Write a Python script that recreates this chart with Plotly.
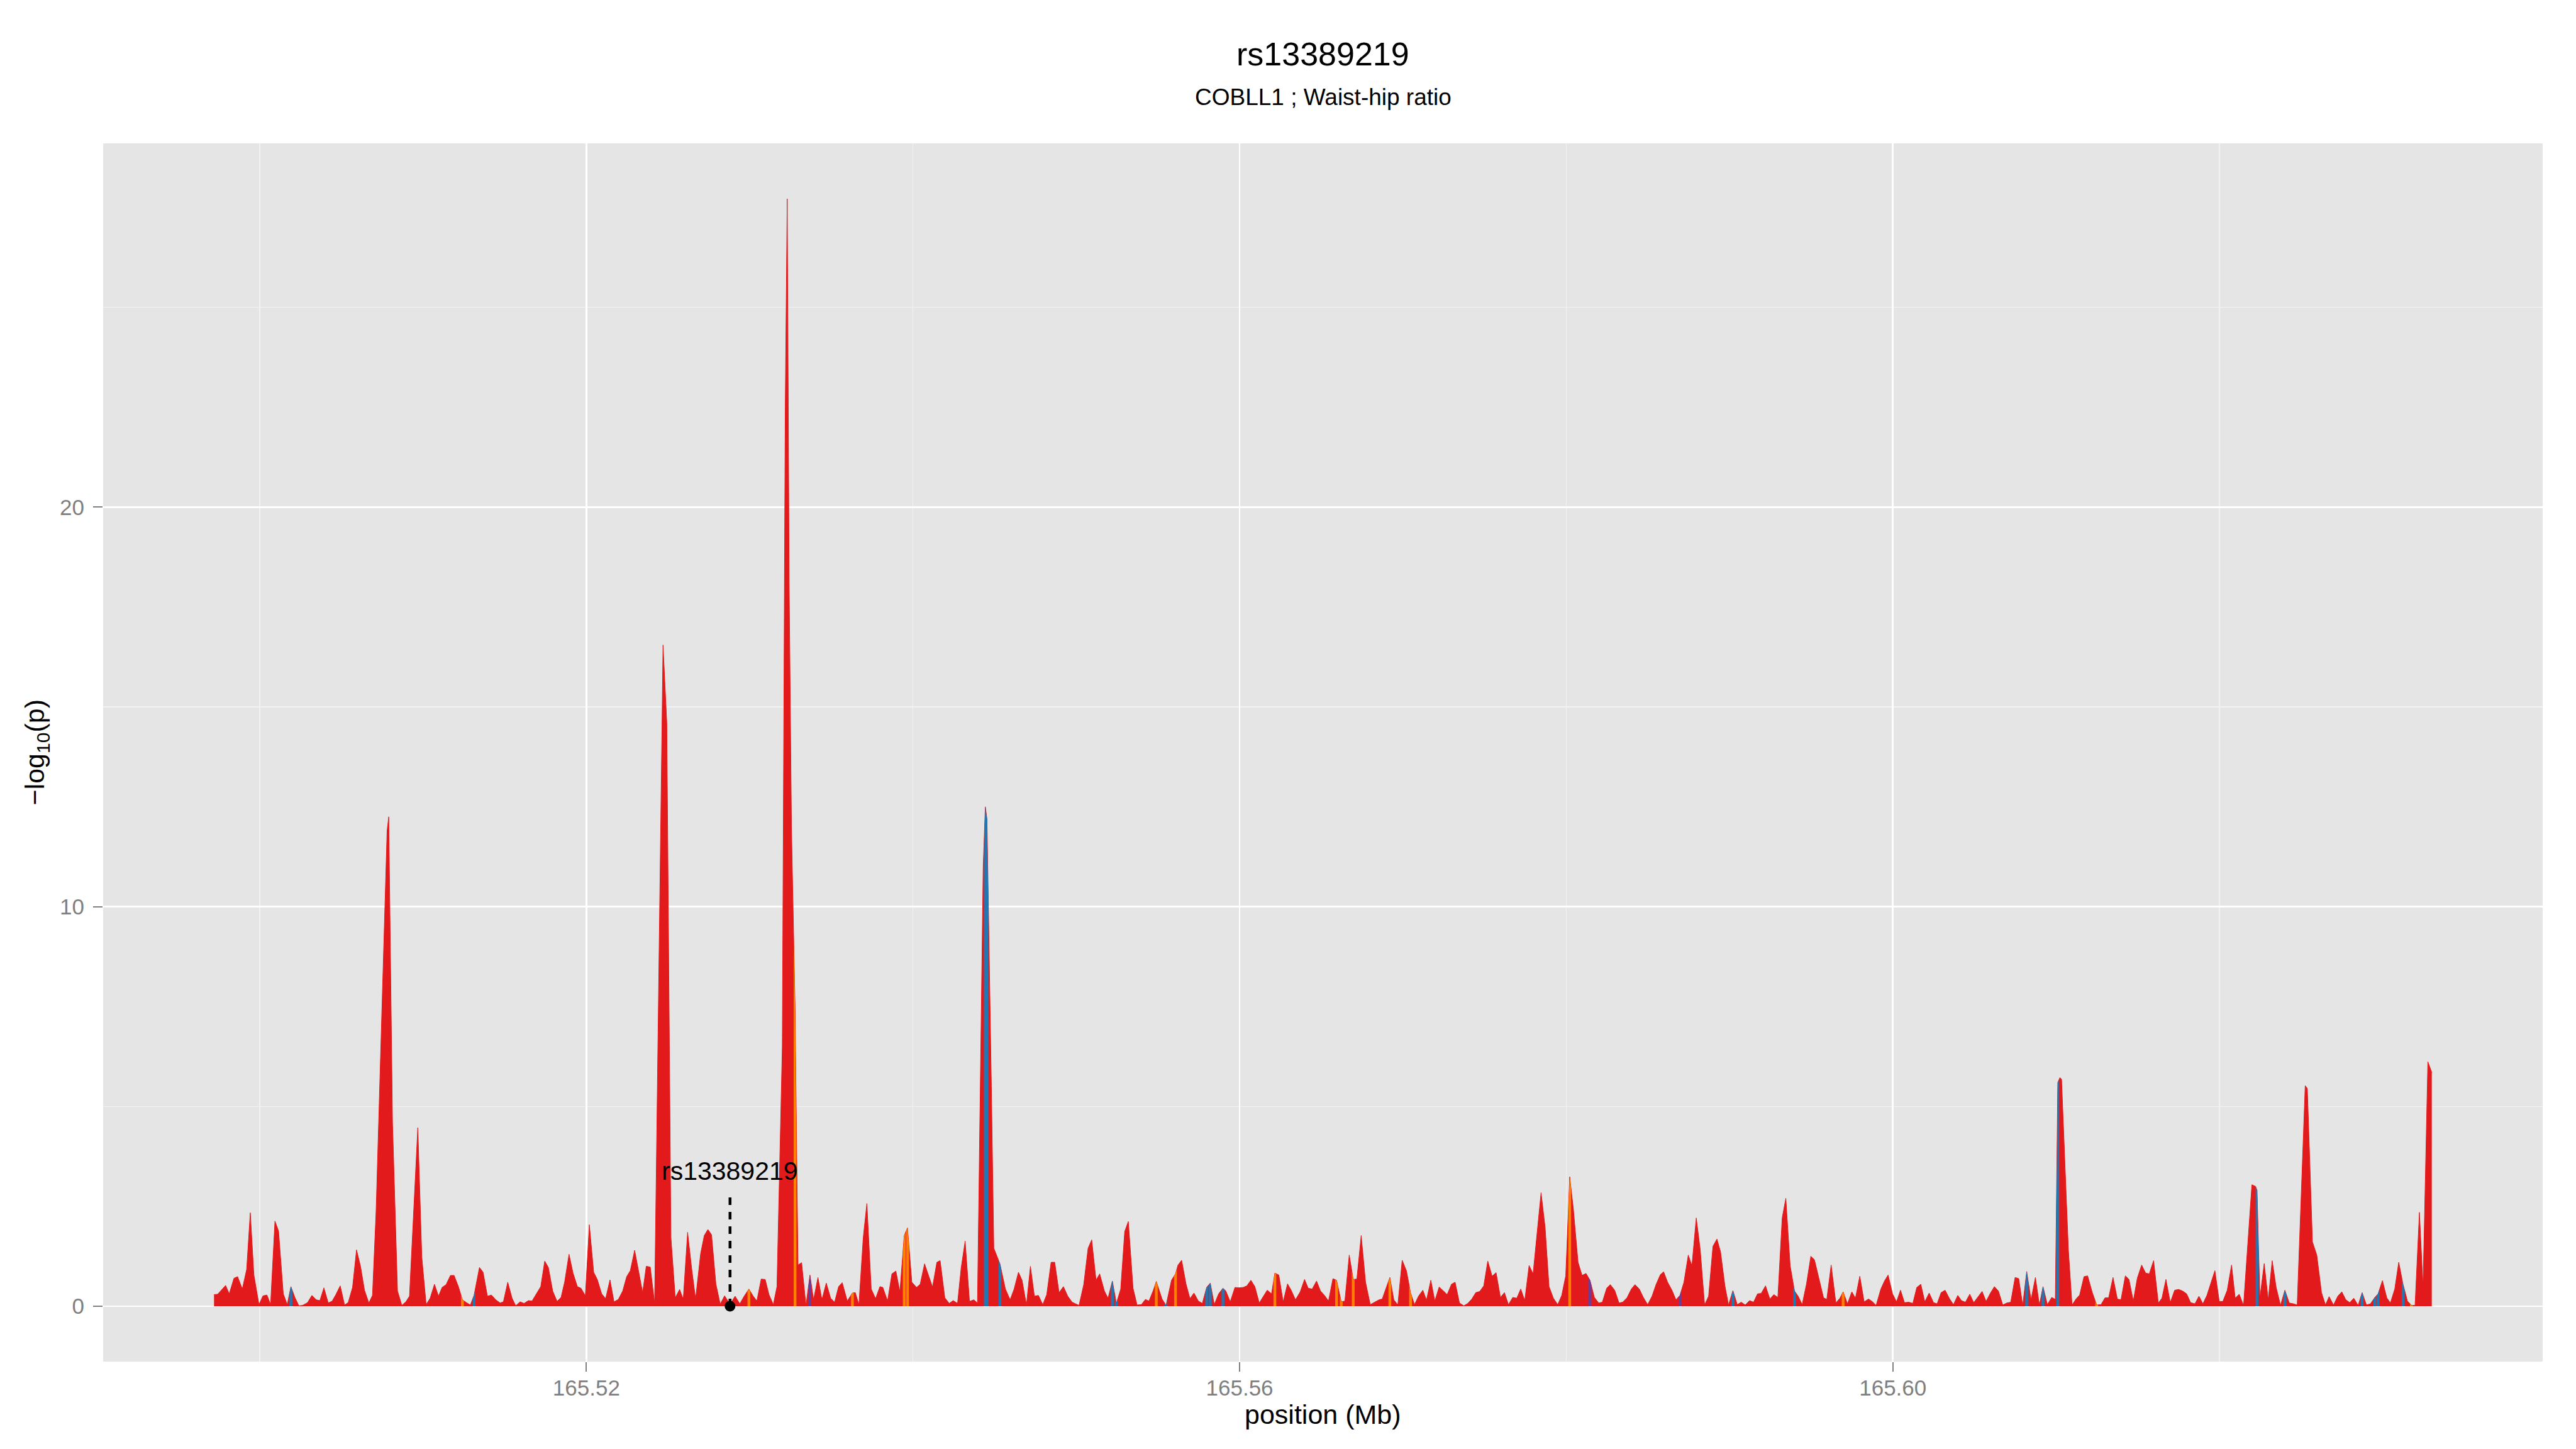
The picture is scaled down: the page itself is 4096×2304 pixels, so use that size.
import numpy as np
import plotly.graph_objects as go

# ---------------- data ----------------
title_text = "rs13389219"
subtitle_text = "COBLL1 ; Waist-hip ratio"
x_title = "position (Mb)"
y_title = "\u2212log<sub>10</sub>(p)"

x_tick_vals = [165.52, 165.56, 165.60]
x_tick_labels = ["165.52", "165.56", "165.60"]
x_minor_vals = [165.50, 165.54, 165.58, 165.62]
y_tick_vals = [0, 10, 20]
y_tick_labels = ["0", "10", "20"]
y_minor_vals = [5, 15, 25]

lead_snp = "rs13389219"
lead_pos_bp = 165528798
lead_label_y = 3.38
lead_line_top = 2.8

pos_bp = [
    165497202, 165497424, 165497646, 165497912, 165498134, 165498423, 165498645, 165498934, 165499200, 165499422,
    165499644, 165499955, 165500199, 165500443, 165500666, 165500932, 165501154, 165501443, 165501687, 165501909,
    165502153, 165502397, 165502619, 165502930, 165503197, 165503463, 165503685, 165503930, 165504196, 165504440,
    165504662, 165504929, 165505195, 165505417, 165505684, 165505928, 165506172, 165506416, 165506683, 165506905,
    165507127, 165507800, 165507900, 165508130, 165508437, 165508703, 165508948, 165509170, 165509680, 165509925,
    165510191, 165510435, 165510702, 165510946, 165511168, 165511412, 165511679, 165511901, 165512167, 165512411,
    165512656, 165512900, 165513122, 165513455, 165513677, 165513944, 165514188, 165514454, 165514721, 165514921,
    165515187, 165515453, 165515675, 165515942, 165516186, 165516453, 165516675, 165516897, 165517208, 165517452,
    165517674, 165517940, 165518207, 165518451, 165518673, 165518939, 165519184, 165519450, 165519672, 165519939,
    165520183, 165520449, 165520671, 165520938, 165521182, 165521448, 165521693, 165521959, 165522226, 165522470,
    165522692, 165522958, 165523180, 165523447, 165523669, 165523913, 165524180, 165524696, 165524926, 165525179,
    165525445, 165525712, 165525934, 165526200, 165526444, 165526689, 165526999, 165527221, 165527444, 165527666,
    165527932, 165528198, 165528465, 165528798, 165529109, 165529398, 165529664, 165529953, 165530219, 165530441,
    165530708, 165530952, 165531183, 165531450, 165531672, 165532000, 165532180, 165532300, 165532420, 165532560,
    165532780, 165532959, 165533181, 165533448, 165533692, 165533914, 165534181, 165534425, 165534691, 165534958,
    165535202, 165535446, 165535668, 165535979, 165536290, 165536468, 165536690, 165536956, 165537178, 165537445,
    165537711, 165537977, 165538155, 165538444, 165538710, 165538954, 165539199, 165539465, 165539665, 165539931,
    165540220, 165540442, 165540709, 165540953, 165541197, 165541464, 165541663, 165541952, 165542218, 165542463,
    165542729, 165542951, 165543195, 165543462, 165543728, 165543950, 165544300, 165544430, 165544530, 165544800,
    165544950, 165545327, 165545660, 165545949, 165546193, 165546459, 165546681, 165546948, 165547192, 165547436,
    165547681, 165547947, 165548191, 165548458, 165548680, 165548946, 165549213, 165549479, 165549746, 165550168,
    165550456, 165550723, 165550945, 165551211, 165551433, 165551722, 165551944, 165552210, 165552455, 165552721,
    165552965, 165553187, 165553476, 165553720, 165553987, 165554231, 165554453, 165554719, 165554900, 165555252,
    165555496, 165555830, 165556074, 165556229, 165556451, 165556718, 165556962, 165557206, 165557473, 165557717,
    165557983, 165558205, 165558450, 165558716, 165558982, 165559160, 165559427, 165559715, 165559959, 165560226,
    165560448, 165560692, 165560936, 165561203, 165561447, 165561691, 165561958, 165562158, 165562402, 165562668,
    165562935, 165563157, 165563423, 165563712, 165563978, 165564200, 165564445, 165564711, 165564955, 165565200,
    165565444, 165565715, 165565937, 165566225, 165566447, 165566714, 165566958, 165567180, 165567446, 165567713,
    165568002, 165568268, 165568534, 165568734, 165568979, 165569201, 165569445, 165569689, 165569956, 165570222,
    165570466, 165570710, 165570955, 165571221, 165571443, 165571710, 165571954, 165572220, 165572487, 165572709,
    165572975, 165573197, 165573464, 165573730, 165573974, 165574219, 165574463, 165574707, 165574951, 165575196,
    165575462, 165575706, 165575973, 165576217, 165576461, 165576728, 165576972, 165577216, 165577460, 165577727,
    165577971, 165578215, 165578460, 165578704, 165578948, 165579215, 165579481, 165579725, 165579970, 165580214,
    165580436, 165580724, 165580969, 165581213, 165581457, 165581723, 165581990, 165582212, 165582479, 165582701,
    165582967, 165583233, 165583456, 165583722, 165583988, 165584210, 165584477, 165584721, 165584988, 165585254,
    165585498, 165585765, 165585965, 165586209, 165586475, 165586720, 165586964, 165587208, 165587474, 165587697,
    165587963, 165588207, 165588474, 165588718, 165588984, 165589229, 165589451, 165589717, 165589939, 165590206,
    165590472, 165590717, 165590961, 165591227, 165591471, 165591715, 165591937, 165592204, 165592470, 165592715,
    165592959, 165593225, 165593447, 165593714, 165593980, 165594202, 165594447, 165594713, 165594979, 165595201,
    165595490, 165595757, 165595956, 165596223, 165596511, 165596756, 165596955, 165597222, 165597488, 165597710,
    165597977, 165598243, 165598510, 165598732, 165598976, 165599265, 165599487, 165599709, 165599981, 165600225,
    165600469, 165600713, 165600980, 165601224, 165601468, 165601712, 165601957, 165602223, 165602490, 165602712,
    165602956, 165603200, 165603467, 165603711, 165603977, 165604200, 165604444, 165604710, 165604954, 165605200,
    165605465, 165605709, 165605976, 165606220, 165606464, 165606731, 165606975, 165607219, 165607486, 165607708,
    165607952, 165608196, 165608462, 165608729, 165608973, 165609195, 165609462, 165609728, 165609950, 165610100,
    165610230, 165610330, 165610749, 165610972, 165611216, 165611438, 165611704, 165611926, 165612215, 165612481,
    165612748, 165612992, 165613214, 165613481, 165613747, 165613969, 165614236, 165614458, 165614724, 165614968,
    165615235, 165615479, 165615701, 165615967, 165616256, 165616478, 165616722, 165616989, 165617255, 165617500,
    165617744, 165617988, 165618232, 165618499, 165618743, 165618987, 165619231, 165619476, 165619720, 165619986,
    165620208, 165620475, 165620741, 165620963, 165621208, 165621474, 165621985, 165622207, 165622300, 165622473,
    165622740, 165622984, 165623228, 165623472, 165623739, 165624005, 165624272, 165624538, 165624760, 165625250,
    165625380, 165625693, 165625960, 165626248, 165626492, 165626714, 165626981, 165627247, 165627491, 165627736,
    165627980, 165628224, 165628491, 165628735, 165629001, 165629245, 165629512, 165629712, 165629978, 165630245,
    165630467, 165630733, 165630977, 165631244, 165631510, 165631754, 165631976, 165632243, 165632465, 165632760,
    165633000,
]

neglog10p = [
    0.29, 0.30, 0.40, 0.52, 0.31, 0.70, 0.74, 0.43, 0.92, 2.34,
    0.78, 0.04, 0.26, 0.28, 0.04, 2.13, 1.88, 0.31, 0.04, 0.49,
    0.22, 0.01, 0.02, 0.09, 0.27, 0.16, 0.14, 0.46, 0.08, 0.13,
    0.29, 0.51, 0.03, 0.09, 0.47, 1.41, 1.00, 0.40, 0.08, 0.27,
    2.39, 11.90, 12.25, 4.60, 0.38, 0.02, 0.11, 0.25, 4.47, 1.23,
    0.04, 0.20, 0.55, 0.25, 0.47, 0.54, 0.77, 0.77, 0.49, 0.16,
    0.09, 0.03, 0.27, 0.97, 0.85, 0.25, 0.28, 0.16, 0.08, 0.11,
    0.60, 0.20, 0.01, 0.11, 0.07, 0.14, 0.13, 0.28, 0.49, 1.13,
    0.97, 0.38, 0.12, 0.22, 0.61, 1.30, 0.83, 0.49, 0.45, 0.26,
    2.04, 0.85, 0.67, 0.31, 0.19, 0.66, 0.11, 0.17, 0.38, 0.74,
    0.89, 1.40, 0.92, 0.34, 1.00, 0.98, 0.07, 16.55, 14.60, 1.72,
    0.21, 0.42, 0.17, 1.85, 0.96, 0.18, 1.32, 1.77, 1.92, 1.79,
    0.56, 0.05, 0.26, 0.05, 0.25, 0.06, 0.25, 0.43, 0.25, 0.13,
    0.68, 0.67, 0.29, 0.04, 0.49, 6.50, 22.50, 27.72, 18.00, 12.00,
    7.50, 1.03, 1.09, 0.02, 0.78, 0.16, 0.72, 0.16, 0.58, 0.20,
    0.10, 0.49, 0.59, 0.13, 0.33, 0.34, 0.04, 1.72, 2.57, 0.43,
    0.19, 0.49, 0.47, 0.13, 0.81, 0.88, 0.36, 1.77, 1.96, 0.60,
    0.47, 0.55, 1.06, 0.78, 0.48, 1.10, 1.14, 0.21, 0.07, 0.14,
    0.07, 0.96, 1.63, 0.12, 0.16, 0.08, 11.00, 12.50, 12.20, 5.50,
    1.45, 1.06, 0.43, 0.16, 0.43, 0.85, 0.65, 0.03, 1.00, 0.25,
    0.27, 0.04, 0.29, 1.10, 1.10, 0.34, 0.49, 0.25, 0.10, 0.02,
    0.54, 1.45, 1.66, 0.65, 0.81, 0.38, 0.20, 0.63, 0.07, 0.43,
    1.87, 2.12, 0.45, 0.03, 0.04, 0.17, 0.13, 0.40, 0.62, 0.18,
    0.02, 0.65, 0.81, 1.03, 1.15, 0.56, 0.19, 0.33, 0.13, 0.07,
    0.47, 0.58, 0.04, 0.31, 0.45, 0.38, 0.11, 0.47, 0.46, 0.47,
    0.51, 0.65, 0.49, 0.08, 0.25, 0.40, 0.31, 0.83, 0.78, 0.11,
    0.56, 0.40, 0.16, 0.36, 0.67, 0.45, 0.43, 0.63, 0.38, 0.27,
    0.13, 0.69, 0.65, 0.11, 0.13, 1.28, 0.67, 0.68, 1.77, 0.60,
    0.04, 0.10, 0.16, 0.18, 0.45, 0.72, 0.16, 0.03, 1.15, 0.88,
    0.34, 0.04, 0.25, 0.40, 0.15, 0.65, 0.13, 0.48, 0.38, 0.29,
    0.55, 0.60, 0.08, 0.01, 0.07, 0.18, 0.34, 0.37, 0.51, 1.13,
    0.75, 0.84, 0.22, 0.34, 0.04, 0.22, 0.20, 0.43, 0.14, 1.02,
    0.81, 1.86, 2.84, 1.99, 0.49, 0.20, 0.04, 0.27, 0.76, 3.24,
    2.44, 1.10, 0.77, 0.82, 0.65, 0.22, 0.08, 0.10, 0.45, 0.54,
    0.40, 0.08, 0.10, 0.21, 0.43, 0.54, 0.43, 0.22, 0.04, 0.25,
    0.54, 0.79, 0.86, 0.60, 0.40, 0.16, 0.27, 0.60, 1.28, 1.01,
    2.21, 1.41, 0.03, 0.25, 1.50, 1.68, 1.36, 0.51, 0.03, 0.39,
    0.04, 0.10, 0.03, 0.14, 0.10, 0.31, 0.32, 0.51, 0.18, 0.29,
    0.22, 2.21, 2.70, 1.01, 0.38, 0.25, 0.04, 0.56, 1.25, 1.16,
    0.69, 0.21, 0.17, 1.03, 0.08, 0.20, 0.36, 0.06, 0.36, 0.20,
    0.75, 0.11, 0.18, 0.12, 0.02, 0.43, 0.63, 0.78, 0.31, 0.11,
    0.40, 0.09, 0.10, 0.07, 0.47, 0.55, 0.11, 0.33, 0.09, 0.06,
    0.34, 0.40, 0.19, 0.04, 0.27, 0.14, 0.10, 0.30, 0.09, 0.22,
    0.37, 0.12, 0.33, 0.49, 0.38, 0.03, 0.08, 0.10, 0.72, 0.69,
    0.02, 0.87, 0.16, 0.72, 0.03, 0.49, 0.04, 0.22, 0.17, 5.60,
    5.72, 5.68, 1.41, 0.03, 0.18, 0.28, 0.74, 0.76, 0.34, 0.03,
    0.04, 0.21, 0.21, 0.72, 0.18, 0.16, 0.76, 0.67, 0.13, 0.70,
    1.03, 0.83, 0.81, 1.14, 0.08, 0.20, 0.67, 0.09, 0.40, 0.42,
    0.38, 0.31, 0.09, 0.06, 0.25, 0.06, 0.27, 0.58, 0.89, 0.12,
    0.12, 0.40, 1.03, 0.20, 0.30, 0.02, 3.04, 3.00, 2.90, 0.20,
    1.07, 0.16, 1.14, 0.47, 0.02, 0.40, 0.08, 0.06, 0.03, 5.52,
    5.45, 1.61, 1.28, 0.34, 0.03, 0.24, 0.03, 0.25, 0.36, 0.16,
    0.09, 0.20, 0.02, 0.34, 0.03, 0.06, 0.22, 0.31, 0.64, 0.21,
    0.08, 0.43, 1.10, 0.54, 0.13, 0.02, 0.02, 2.35, 0.49, 6.12,
    5.85,
]

# SNPs drawn in other colours (positions in bp; values taken from neglog10p)
blue_snps = [165501909, 165513122, 165544430, 165544530, 165545327, 165552210, 165552455,
             165555496, 165557983, 165558205, 165558982, 165590206, 165593980, 165608196,
             165609195, 165610100, 165622300, 165624005, 165628735, 165629512, 165629712,
             165631244]
orange_snps = [165512411, 165529953, 165532780, 165536290, 165539465, 165539665, 165554900,
               165556074, 165562158, 165565937, 165566225, 165566958, 165569201, 165570466,
               165580214, 165596955, 165612481, 165631754]
purple_snps = [165533692, 165581457, 165586964]

assert len(pos_bp) == len(neglog10p)

# ---------------- styling ----------------
RED = "#E31A1C"
BLUE = "#1F78B4"
ORANGE = "#FF7F00"
PURPLE = "#6A3D9A"
FONT = "Liberation Sans, Arial, Helvetica, sans-serif"
STRIP_HALF_BP = 85

x = np.array(pos_bp, dtype=float) / 1e6
y = np.array(neglog10p, dtype=float)
value_at = dict(zip(pos_bp, neglog10p))

xspan = x.max() - x.min()
x_range = [x.min() - 0.05 * xspan, x.max() + 0.05 * xspan]
yspan = y.max() - 0.0
y_range = [0.0 - 0.05 * yspan, y.max() + 0.05 * yspan]

fig = go.Figure()

fig.add_trace(go.Scatter(
    x=x, y=y, mode="lines", fill="tozeroy",
    line=dict(color=RED, width=1), fillcolor=RED,
    hoverinfo="skip", showlegend=False,
))


def strip_trace(snps, color):
    xs, ys = [], []
    h = STRIP_HALF_BP / 1e6
    for p in snps:
        c = p / 1e6
        v = value_at[p]
        yl = float(np.interp(c - h, x, y))
        yr = float(np.interp(c + h, x, y))
        xs += [c - h, c - h, c, c + h, c + h, None]
        ys += [0, yl, v, yr, 0, None]
    return go.Scatter(x=xs, y=ys, mode="lines", fill="toself",
                      line=dict(width=0, color=color), fillcolor=color,
                      hoverinfo="skip", showlegend=False)


fig.add_trace(strip_trace(orange_snps, ORANGE))
fig.add_trace(strip_trace(purple_snps, PURPLE))
fig.add_trace(strip_trace(blue_snps, BLUE))

lead_x = lead_pos_bp / 1e6
fig.add_trace(go.Scatter(
    x=[lead_x, lead_x], y=[0, lead_line_top], mode="lines",
    line=dict(color="black", width=4.5, dash="12px,11px"),
    hoverinfo="skip", showlegend=False,
))
fig.add_trace(go.Scatter(
    x=[lead_x], y=[0], mode="markers",
    marker=dict(color="black", size=17),
    hoverinfo="skip", showlegend=False,
))

W, H = 4096, 2304
ML, MR, MT, MB = 164, 53, 228, 139
PW, PH = W - ML - MR, H - MT - MB

annotations = [
    dict(text=lead_snp, x=lead_x, y=lead_label_y, xref="x", yref="y",
         showarrow=False, font=dict(family=FONT, size=41, color="black"),
         xanchor="center", yanchor="middle"),
    dict(text=title_text, x=0.5, y=1 + (MT - 86) / PH, xref="paper", yref="paper",
         showarrow=False, font=dict(family=FONT, size=52, color="black"),
         xanchor="center", yanchor="middle"),
    dict(text=subtitle_text, x=0.5, y=1 + (MT - 154) / PH, xref="paper", yref="paper",
         showarrow=False, font=dict(family=FONT, size=37, color="black"),
         xanchor="center", yanchor="middle"),
    dict(text=x_title, x=0.5, y=-(2249 - (H - MB)) / PH, xref="paper", yref="paper",
         showarrow=False, font=dict(family=FONT, size=43, color="black"),
         xanchor="center", yanchor="middle"),
    dict(text=y_title, x=-(ML - 57) / PW, y=0.5, xref="paper", yref="paper",
         showarrow=False, font=dict(family=FONT, size=43, color="black"),
         textangle=-90, xanchor="center", yanchor="middle"),
]

fig.update_layout(
    width=W, height=H,
    margin=dict(l=ML, r=MR, t=MT, b=MB, pad=0, autoexpand=False),
    paper_bgcolor="white", plot_bgcolor="#E5E5E5",
    showlegend=False,
    annotations=annotations,
    font=dict(family=FONT),
)

fig.update_xaxes(
    range=x_range, tickmode="array", tickvals=x_tick_vals, ticktext=x_tick_labels,
    ticks="outside", ticklen=15, tickwidth=2, tickcolor="#7F7F7F",
    tickfont=dict(family=FONT, size=35, color="#7F7F7F"),
    ticklabelstandoff=-4, automargin=False,
    showgrid=True, gridcolor="white", gridwidth=2.6,
    minor=dict(tickmode="array", tickvals=x_minor_vals, showgrid=True,
               gridcolor="#F2F2F2", gridwidth=1.3, ticks=""),
    zeroline=False, showline=False,
)
fig.update_yaxes(
    range=y_range, tickmode="array", tickvals=y_tick_vals, ticktext=y_tick_labels,
    ticks="outside", ticklen=15, tickwidth=2, tickcolor="#7F7F7F",
    tickfont=dict(family=FONT, size=35, color="#7F7F7F"),
    ticklabelstandoff=7, automargin=False,
    showgrid=True, gridcolor="white", gridwidth=2.6,
    minor=dict(tickmode="array", tickvals=y_minor_vals, showgrid=True,
               gridcolor="#F2F2F2", gridwidth=1.3, ticks=""),
    zeroline=False, showline=False,
)

fig.write_html(
    "out.html",
    config={"displayModeBar": False, "staticPlot": True},
    post_script="document.body.style.margin='0';document.body.style.padding='0';",
)
